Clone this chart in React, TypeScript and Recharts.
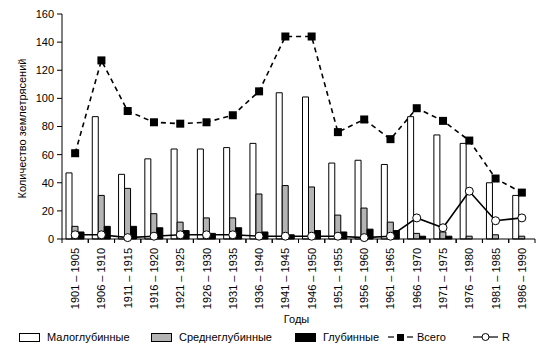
import { Bar, ComposedChart, Legend, Line, XAxis, YAxis } from "recharts"

const periods = [
  '1901 – 1905', '1906 – 1910', '1911 – 1915', '1916 – 1920', '1921 – 1925', '1926 – 1930',
  '1931 – 1935', '1936 – 1940', '1941 – 1945', '1946 – 1950', '1951 – 1955', '1956 – 1960',
  '1961 – 1965', '1966 – 1970', '1971 – 1975', '1976 – 1980', '1981 – 1985', '1986 – 1990',
];
const shallow = [47, 87, 46, 57, 64, 64, 65, 68, 104, 101, 54, 56, 53, 87, 74, 68, 40, 31];
const intermediate = [9, 31, 36, 18, 12, 15, 15, 32, 38, 37, 17, 22, 12, 4, 5, 2, 3, 2];
const deep = [5, 9, 9, 8, 6, 4, 8, 5, 3, 6, 5, 7, 6, 2, 2, 0, 0, 0];
const total = [61, 127, 91, 83, 82, 83, 88, 105, 144, 144, 76, 85, 71, 93, 84, 70, 43, 33];
const rValues = [3, 3, 1, 2, 3, 3, 3, 2, 2, 2, 2, 1, 2, 15, 8, 34, 13, 15];
const yTicks = [0, 20, 40, 60, 80, 100, 120, 140, 160];

const data = periods.map((period, i) => ({
  period,
  shallow: shallow[i],
  intermediate: intermediate[i],
  deep: deep[i],
  total: total[i],
  r: rValues[i],
}));

const font = "'Liberation Sans', Arial, sans-serif";

const XTick = (props: any) => {
  const { x, y, payload } = props;
  const off = payload.offset ?? 13.1;
  return (
    <g>
      <line x1={x - off} x2={x - off} y1={y} y2={y + 4} stroke="#000" />
      <line x1={x + off} x2={x + off} y1={y} y2={y + 4} stroke="#000" />
      <g transform={`translate(${x},${y})`}>
        <text transform="rotate(-90)" x={-9} y={4} textAnchor="end" fontSize={11} fill="#000" fontFamily={font}>
          {payload.value}
        </text>
      </g>
    </g>
  );
};

const YLabel = (props: any) => {
  const vb = props.viewBox ?? { y: 14, height: 225 };
  const cx = 22;
  const cy = vb.y + vb.height / 2 + 2;
  return (
    <text
      x={cx}
      y={cy}
      transform={`rotate(-90, ${cx}, ${cy})`}
      textAnchor="middle"
      dominantBaseline="central"
      fontSize={11}
      fill="#000"
      fontFamily={font}
    >
      Количество землетрясений
    </text>
  );
};

const SquareDot = (props: any) => {
  const { cx, cy, index } = props;
  return <rect key={index} x={cx - 4} y={cy - 4} width={8} height={8} fill="#000" />;
};

const CircleDot = (props: any) => {
  const { cx, cy, index } = props;
  return <circle key={index} cx={cx} cy={cy} r={4} fill="#fff" stroke="#000" strokeWidth={1} />;
};

const legendItems = [
  { name: 'Малоглубинные', kind: 'box', color: '#fff', left: 19 },
  { name: 'Среднеглубинные', kind: 'box', color: '#b4b4b4', left: 151 },
  { name: 'Глубинные', kind: 'box', color: '#000', left: 295 },
  { name: 'Всего', kind: 'dash', color: '#000', left: 388 },
  { name: 'R', kind: 'line', color: '#000', left: 473 },
];

const LegendContent = () => (
  <div style={{ position: 'relative', width: 550, height: 30, fontFamily: font, fontSize: 11, color: '#000' }}>
    {legendItems.map((it) => (
      <div key={it.name} style={{ position: 'absolute', left: it.left, top: 0, display: 'flex', alignItems: 'center', height: 14 }}>
        <svg width={it.kind === 'box' ? 21 : 25} height={10} style={{ marginRight: it.kind === 'box' ? 7 : 4 }}>
          {it.kind === 'box' && <rect x={0.5} y={1.5} width={20} height={8} fill={it.color} stroke="#000" />}
          {it.kind === 'dash' && (
            <g>
              <line x1={0} x2={6} y1={5} y2={5} stroke="#000" strokeWidth={1.2} />
              <rect x={9} y={2} width={7} height={7} fill="#000" />
              <line x1={19} x2={25} y1={5} y2={5} stroke="#000" strokeWidth={1.2} />
            </g>
          )}
          {it.kind === 'line' && (
            <g>
              <line x1={0} x2={25} y1={5} y2={5} stroke="#000" strokeWidth={1.2} />
              <circle cx={12.5} cy={5} r={3.5} fill="#fff" stroke="#000" />
            </g>
          )}
        </svg>
        <span>{it.name}</span>
      </div>
    ))}
  </div>
);

export default function App() {
  return (
    <div style={{ position: 'absolute', left: 0, top: 0, width: 550, height: 360, background: '#fff' }}>
      <ComposedChart
        width={550}
        height={360}
        data={data}
        margin={{ top: 14, right: 15, left: 0, bottom: 0 }}
        barGap={0}
        barSize={6}
        style={{ fontFamily: font }}
      >
        <XAxis
          dataKey="period"
          interval={0}
          height={91}
          tickSize={0}
          tickMargin={0}
          tickLine={false}
          tick={<XTick />}
          axisLine={{ stroke: '#000' }}
          label={{ value: 'Годы', position: 'insideBottom', offset: 7, dx: -2, fill: '#000', fontSize: 11 }}
        />
        <YAxis
          width={62}
          domain={[0, 160]}
          ticks={yTicks}
          interval={0}
          tickSize={5}
          tickMargin={3}
          axisLine={{ stroke: '#000' }}
          tickLine={{ stroke: '#000' }}
          tick={{ fill: '#000', fontSize: 11, fontFamily: font }}
          label={<YLabel />}
        />
        <Legend verticalAlign="bottom" content={<LegendContent />} />
        <Bar dataKey="shallow" name="Малоглубинные" fill="#fff" stroke="#000" strokeWidth={1} isAnimationActive={false} />
        <Bar dataKey="intermediate" name="Среднеглубинные" fill="#b4b4b4" stroke="#000" strokeWidth={1} isAnimationActive={false} />
        <Bar dataKey="deep" name="Глубинные" fill="#000" stroke="#000" strokeWidth={1} isAnimationActive={false} />
        <Line
          dataKey="total"
          name="Всего"
          type="linear"
          stroke="#000"
          strokeWidth={1.6}
          strokeDasharray="5 4"
          dot={<SquareDot />}
          isAnimationActive={false}
        />
        <Line
          dataKey="r"
          name="R"
          type="linear"
          stroke="#000"
          strokeWidth={1.6}
          dot={<CircleDot />}
          isAnimationActive={false}
        />
      </ComposedChart>
    </div>
  );
}
